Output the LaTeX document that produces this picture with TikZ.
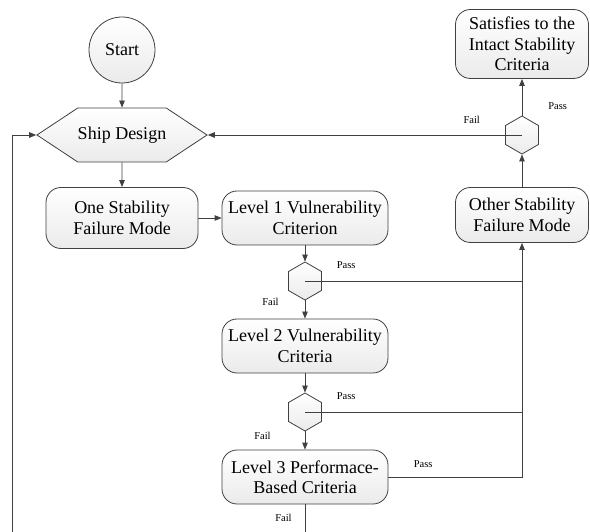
\documentclass[tikz,border=0pt]{standalone}
\usepackage{fontspec}
\setmainfont{Liberation Serif}
\usetikzlibrary{positioning, arrows.meta, shapes.geometric, shapes.symbols}

\begin{document}
\begin{tikzpicture}[
    x=1pt, y=1pt, >={Triangle[length=7pt, width=5.5pt]},
    line/.style={draw=black!75, line width=0.8pt},
    shade/.style={draw=black!75, line width=0.8pt, top color=white, bottom color=black!8},
    box/.style={shade, rounded corners=15pt, align=center, inner sep=2pt,
                font=\fontsize{18}{20.5}\selectfont},
    lvbox/.style={box, minimum width=166pt, minimum height=54pt},
    startnode/.style={shade, circle, minimum size=66pt, inner sep=0pt,
                font=\fontsize{18}{20.5}\selectfont},
    shiphex/.style={shade, signal, signal to=west and east, signal pointer angle=67,
                minimum width=164pt, minimum height=54pt, inner sep=0pt,
                font=\fontsize{18}{20.5}\selectfont},
    decision/.style={shade, regular polygon, regular polygon sides=6,
                shape border rotate=30, minimum size=38pt, inner sep=0pt},
    lbl/.style={font=\fontsize{10.5}{12}\selectfont, inner sep=0pt}
]
    \useasboundingbox (0,0) rectangle (590,-532);
    \clip (0,0) rectangle (590,-532);

    % Main column
    \node[startnode] (start) at (122,-50) {Start};
    \node[shiphex, below of=start, node distance=85pt] (ship) {Ship Design};
    \node[box, minimum width=152pt, minimum height=61pt,
          below of=ship, node distance=83pt] (one) {One Stability\\Failure Mode};

    % Assessment levels
    \node[lvbox, right of=one, node distance=183pt] (lv1) {Level 1 Vulnerability\\Criterion};
    \node[decision, below of=lv1, node distance=63pt] (d1) {};
    \node[lvbox, below of=d1, node distance=65pt] (lv2) {Level 2 Vulnerability\\Criteria};
    \node[decision, below of=lv2, node distance=66pt] (d2) {};
    \node[lvbox, below of=d2, node distance=65pt] (lv3) {Level 3 Performace-\\Based Criteria};

    % Right column
    \node[box, minimum width=133pt, minimum height=55pt] (other) at (522,-215) {Other Stability\\Failure Mode};
    \node[decision, above of=other, node distance=80pt] (d3) {};
    \node[box, minimum width=133pt, minimum height=69pt,
          above of=d3, node distance=91pt] (sat) {Satisfies to the\\Intact Stability\\Criteria};

    \coordinate (back) at (12,-545);

    % Transitions
    \draw[line, ->] (start) -- (ship);
    \draw[line, ->] (ship) -- (one);
    \draw[line, ->] (one) -- (lv1);
    \draw[line, ->] (lv1) -- (d1);
    \draw[line, ->] (d1) -- node[lbl, pos=0.1, left=26pt] {Fail} (lv2);
    \draw[line, ->] (lv2) -- (d2);
    \draw[line, ->] (d2) -- node[lbl, pos=0.25, left=34pt] {Fail} (lv3);

    % Pass branches
    \draw[line] (d1.center) -- node[lbl, pos=0.19, above=12pt] {Pass} (d1.center -| other.south);
    \draw[line] (d2.center) -- node[lbl, pos=0.19, above=12pt] {Pass} (d2.center -| other.south);
    \draw[line, ->] (lv3.east) -| node[lbl, pos=0.13, above=9pt] {Pass} (other.south);
    \draw[line, ->] (other) -- (d3);
    \draw[line, ->] (d3) -- node[lbl, pos=0.26, right=26pt] {Pass} (sat);
    \draw[line, ->] (d3.center) -- node[lbl, pos=0.16, above=11pt] {Fail} (ship.east);

    % Back to design
    \draw[line, ->] (lv3.south) -- node[lbl, pos=0.33, left=13pt] {Fail} (lv3.south |- back)
        -- (back) |- (ship.west);

\end{tikzpicture}
\end{document}
